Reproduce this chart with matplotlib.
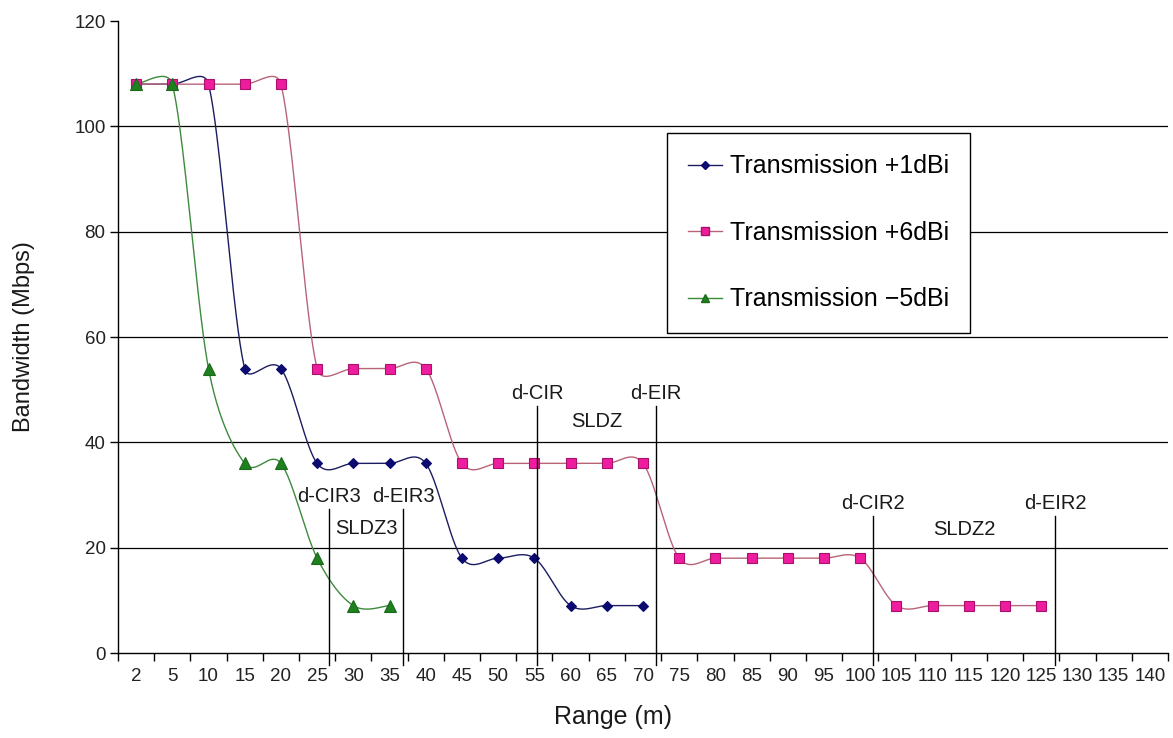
import numpy as np
import matplotlib
import matplotlib.pyplot as plt

matplotlib.use('Agg')

plt.rcParams['font.family'] = ['Liberation Sans', 'DejaVu Sans']

# categories on the x axis (Range, m)
ranges = ['2', '5', '10', '15', '20', '25', '30', '35', '40', '45', '50', '55', '60',
          '65', '70', '75', '80', '85', '90', '95', '100', '105', '110', '115', '120',
          '125', '130', '135', '140']

# bandwidth (Mbps) per series, starting at the first category
bw_plus1 = [108, 108, 108, 54, 54, 36, 36, 36, 36, 18, 18, 18, 9, 9, 9]
bw_plus6 = [108, 108, 108, 108, 108, 54, 54, 54, 54, 36, 36, 36, 36, 36, 36,
            18, 18, 18, 18, 18, 18, 9, 9, 9, 9, 9]
bw_minus5 = [108, 108, 54, 36, 36, 18, 9, 9]

# distance markers (category index units) and their heights
mark_names = ['d-CIR3', 'd-EIR3', 'd-CIR', 'd-EIR', 'd-CIR2', 'd-EIR2']
mark_pos = [5.33, 7.37, 11.07, 14.36, 20.36, 25.38]
mark_top = [27.3, 27.3, 46.9, 46.9, 26.0, 26.0]
zone_names = ['SLDZ3', 'SLDZ', 'SLDZ2']
zone_y = [23.7, 44.0, 23.4]


def excel_smooth(ax, xs, ys, n=40):
    # bezier smoothing in pixel space, roughly like Excel's smoothed line
    pts = ax.transData.transform(np.column_stack([xs, ys]))
    out = [pts[:1]]
    for i in range(len(pts) - 1):
        p0 = pts[i - 1] if i > 0 else pts[i]
        p1, p2 = pts[i], pts[i + 1]
        p3 = pts[i + 2] if i + 2 < len(pts) else pts[i + 1]
        half = np.hypot(*(p2 - p1)) / 2
        v1 = (p2 - p0) / 6
        v2 = (p3 - p1) / 6
        if np.hypot(*v1) > half:
            v1 = v1 * half / np.hypot(*v1)
        if np.hypot(*v2) > half:
            v2 = v2 * half / np.hypot(*v2)
        c1, c2 = p1 + v1, p2 - v2
        t = np.linspace(0, 1, n)[1:, None]
        seg = (1 - t) ** 3 * p1 + 3 * (1 - t) ** 2 * t * c1 + 3 * (1 - t) * t ** 2 * c2 + t ** 3 * p2
        out.append(seg)
    path = np.vstack(out)
    return ax.transData.inverted().transform(path)


fig = plt.figure(figsize=(11.73, 7.38), dpi=100)
ax = fig.add_axes([118 / 1173, 85 / 738, 1050 / 1173, 632 / 738])
ax.set_xlim(-0.5, len(ranges) - 0.5)
ax.set_ylim(0, 120)

for sp in ['top', 'right']:
    ax.spines[sp].set_visible(False)
for sp in ['left', 'bottom']:
    ax.spines[sp].set_linewidth(1.0)
    ax.spines[sp].set_color('black')

for g in range(20, 120, 20):
    ax.axhline(g, color='black', linewidth=0.9, zorder=1)

series = [
    (bw_plus1, 'Transmission +1dBi', '#1c1c60', 'D', '#0b0b70', '#0b0b70', 5.5),
    (bw_plus6, 'Transmission +6dBi', '#b86478', 's', '#ee1c9e', '#a8126a', 7.5),
    (bw_minus5, 'Transmission \u22125dBi', '#3d8a3d', '^', '#1f801f', '#1a6a1a', 8),
]
handles = []
for vals, label, lc, mk, mf, me, ms in series:
    xs = np.arange(len(vals))
    curve = excel_smooth(ax, xs, vals)
    ax.plot(curve[:, 0], curve[:, 1], color=lc, linewidth=1.0, zorder=3)
    ax.plot(xs, vals, linestyle='none', marker=mk, markersize=ms,
            markerfacecolor=mf, markeredgecolor=me, markeredgewidth=0.8, zorder=4)
    h, = ax.plot([], [], color=lc, linewidth=1.0, marker=mk, markersize=ms * 0.75,
                 markerfacecolor=mf, markeredgecolor=me, label=label)
    handles.append(h)

# distance markers
for name, x, top in zip(mark_names, mark_pos, mark_top):
    ax.plot([x, x], [-2.3, top], color='black', linewidth=1.0, clip_on=False, zorder=5)
    ax.text(x, top + 2.4, name, ha='center', va='center', fontsize=14.5, color='#1a1a1a')
for i, (name, y) in enumerate(zip(zone_names, zone_y)):
    xm = (mark_pos[2 * i] + mark_pos[2 * i + 1]) / 2
    ax.text(xm, y, name, ha='center', va='center', fontsize=14.5, color='#1a1a1a')

ax.set_xticks(np.arange(len(ranges)))
ax.set_xticklabels(ranges)
ax.set_xticks(np.arange(len(ranges) + 1) - 0.5, minor=True)
ax.tick_params(axis='x', which='major', length=0, pad=11, labelsize=13.5, labelcolor='#222222')
ax.tick_params(axis='x', which='minor', length=6, width=1.0, direction='out')
ax.set_yticks(range(0, 121, 20))
ax.tick_params(axis='y', length=6, width=1.0, direction='out', pad=3,
               labelsize=13.5, labelcolor='#222222')

fig.text(24 / 1173, 1 - 337 / 738, 'Bandwidth (Mbps)', rotation=90, ha='center',
         va='center', fontsize=17, color='#1a1a1a')
fig.text(613 / 1173, 1 - 717 / 738, 'Range (m)', ha='center', va='center',
         fontsize=18, color='#1a1a1a')

leg = ax.legend(handles=handles, loc='upper left',
                bbox_to_anchor=(667 / 1173, 1 - 133 / 738), bbox_transform=fig.transFigure,
                fontsize=18, frameon=True, fancybox=False, framealpha=1,
                edgecolor='black', borderpad=0.85, labelspacing=1.7,
                handlelength=1.35, handletextpad=0.3, borderaxespad=0)
leg.get_frame().set_linewidth(1.0)
leg.set_zorder(6)

fig.savefig('out.png', dpi=100)
